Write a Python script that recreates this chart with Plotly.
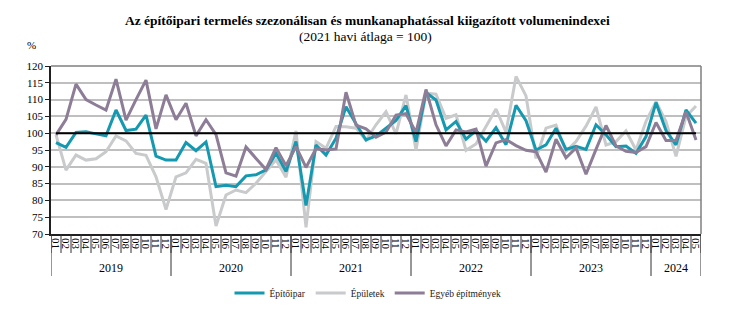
import plotly.graph_objects as go

years = ["2019", "2020", "2021", "2022", "2023", "2024"]
months_per_year = [12, 12, 12, 12, 12, 5]
month_labels = ["01", "02", "03", "04", "05", "06", "07", "08", "09", "10", "11", "12"]

epitoipar = [
    97.2, 95.8, 100.2, 100.4, 99.8, 99.2, 106.9, 100.8, 101.2, 105.4, 93.2, 92.0,
    92.0, 97.2, 94.8, 97.4, 84.1, 84.5, 84.1, 87.3, 87.6, 89.1, 94.0, 88.6,
    97.5, 78.5, 96.5, 93.5, 98.5, 107.9, 102.8, 98.0, 99.2, 101.5, 103.8, 108.2,
    97.5, 112.1, 109.9, 101.0, 103.5, 98.2, 100.8, 97.6, 101.6, 96.6, 108.3, 103.7,
    95.0, 96.5, 101.5, 95.2, 96.1, 95.2, 102.5, 99.5, 96.0, 96.2, 94.0, 99.0,
    109.1, 100.8, 96.5, 106.9, 103.0,
]
epuletek = [
    99.5, 89.0, 93.5, 92.0, 92.4, 94.5, 99.2, 97.7, 94.0, 93.4, 87.0, 77.3,
    87.0, 88.2, 92.2, 91.0, 72.4, 81.6, 83.1, 82.3, 85.1, 88.6, 92.1, 86.9,
    100.7, 72.0, 97.5, 95.5, 102.0, 101.9, 101.5, 97.9, 102.5, 106.4, 99.8, 111.4,
    95.0, 111.9, 111.6, 104.4, 105.5, 94.9, 96.8, 102.0, 107.2, 100.3, 116.9, 111.1,
    92.5, 101.5, 102.4, 94.6, 97.5, 102.1, 107.8, 96.5, 97.5, 100.7, 95.0, 103.5,
    109.4, 103.5, 93.1, 105.0, 108.1,
]
egyeb = [
    99.5, 104.1, 114.6, 110.0, 108.4, 106.9, 116.1, 103.9, 110.0, 115.8, 101.3, 111.4,
    104.0, 108.9, 99.2, 104.0, 99.6, 88.2, 87.2, 95.9, 92.5, 89.2, 95.7, 90.3,
    96.0, 89.8, 95.4, 95.0, 95.3, 112.2, 102.4, 101.3, 98.8, 100.3, 105.4, 105.8,
    100.2, 113.0, 102.5, 96.2, 101.0, 100.4, 101.2, 90.2, 97.1, 98.1, 96.3, 94.9,
    94.5, 88.4, 98.2, 92.7, 95.6, 87.8, 95.2, 102.3, 96.2, 94.6, 94.3, 96.0,
    103.2, 97.8, 97.8, 106.4, 98.0,
]
base_value = 100

categories = []
cat_months = []
for y, n in zip(years, months_per_year):
    for m in month_labels[:n]:
        categories.append(f"{y}-{m}")
        cat_months.append(m)

FONT = "Liberation Serif"
C_TEAL = "#1499B0"
C_GRAY = "#C9CACB"
C_PURPLE = "#8D7D97"

fig = go.Figure()
fig.add_trace(go.Scatter(x=categories, y=epuletek, mode="lines", name="Épületek",
                         line=dict(color=C_GRAY, width=3), legendrank=2))
fig.add_trace(go.Scatter(x=categories, y=epitoipar, mode="lines", name="Építőipar",
                         line=dict(color=C_TEAL, width=3), legendrank=1))
fig.add_trace(go.Scatter(x=categories, y=egyeb, mode="lines", name="Egyéb építmények",
                         line=dict(color=C_PURPLE, width=3), legendrank=3))
fig.add_trace(go.Scatter(x=categories, y=[base_value] * len(categories), mode="lines",
                         showlegend=False, line=dict(color="#000000", width=2),
                         hoverinfo="skip"))

W, H = 730, 324
plot_left, plot_right = 51, 701
plot_top, plot_bottom = 66, 234
plot_w = plot_right - plot_left
plot_h = plot_bottom - plot_top

def py(px):
    return (plot_bottom - px) / plot_h

def pxf(px):
    return (px - plot_left) / plot_w

shapes = []
# month separators
for i in range(len(categories) + 1):
    shapes.append(dict(type="line", xref="x", yref="paper", x0=i - 0.5, x1=i - 0.5,
                       y0=0, y1=py(253), line=dict(color="#303030", width=1)))
# year dividers
start = 0
bounds = [0]
for n in months_per_year:
    start += n
    bounds.append(start)
for b in bounds:
    shapes.append(dict(type="line", xref="x", yref="paper", x0=b - 0.5, x1=b - 0.5,
                       y0=0, y1=py(276), line=dict(color="#303030", width=1)))
# top / right frame
shapes.append(dict(type="line", xref="paper", yref="paper", x0=0, x1=1, y0=1, y1=1,
                   line=dict(color="#7F7F7F", width=1.5)))
shapes.append(dict(type="line", xref="paper", yref="paper", x0=1, x1=1, y0=0, y1=1,
                   line=dict(color="#7F7F7F", width=1.5)))

annotations = []
for k, (y, b0) in enumerate(zip(years, bounds[:-1])):
    b1 = bounds[k + 1]
    annotations.append(dict(text=y, xref="x", yref="paper", x=(b0 + b1 - 1) / 2,
                            y=py(268), showarrow=False, yanchor="middle",
                            font=dict(family=FONT, size=12, color="#000")))
annotations.append(dict(text="<b>Az építőipari termelés szezonálisan és munkanaphatással kiigazított volumenindexei</b>",
                        xref="paper", yref="paper", x=pxf(367), y=py(20),
                        showarrow=False, yanchor="middle", xanchor="center",
                        font=dict(family=FONT, size=13.5, color="#000")))
annotations.append(dict(text="(2021 havi átlaga = 100)",
                        xref="paper", yref="paper", x=pxf(365), y=py(37),
                        showarrow=False, yanchor="middle", xanchor="center",
                        font=dict(family=FONT, size=13.5, color="#000")))
annotations.append(dict(text="%", xref="paper", yref="paper", x=pxf(31), y=py(45),
                        showarrow=False, yanchor="middle", xanchor="center",
                        font=dict(family=FONT, size=11, color="#000")))

fig.update_layout(
    width=W, height=H,
    margin=dict(l=plot_left, r=W - plot_right, t=plot_top, b=H - plot_bottom,
                autoexpand=False),
    paper_bgcolor="white", plot_bgcolor="white",
    font=dict(family=FONT, size=11, color="#000"),
    showlegend=True,
    legend=dict(orientation="h", x=pxf(368), xanchor="center", y=py(293),
                yanchor="middle", font=dict(family=FONT, size=9.5, color="#222"),
                itemwidth=30, tracegroupgap=0),
    shapes=shapes,
    annotations=annotations,
    xaxis=dict(type="category", tickmode="array", tickvals=categories, ticktext=cat_months,
               tickangle=90, ticks="", showgrid=False, showline=True,
               linecolor="#202020", linewidth=1.5, zeroline=False,
               tickfont=dict(family=FONT, size=11, color="#000"),
               range=[-0.5, len(categories) - 0.5]),
    yaxis=dict(range=[70, 120], dtick=5, tick0=70, showgrid=True, gridcolor="#BFBFBF",
               gridwidth=1.5, showline=True, linecolor="#202020", linewidth=1.5,
               ticks="outside", ticklen=4, tickcolor="#202020", zeroline=False,
               tickfont=dict(family=FONT, size=11, color="#000")),
)

fig.write_html("out.html", config={"displayModeBar": False},
               post_script="document.body.style.margin='0';")
